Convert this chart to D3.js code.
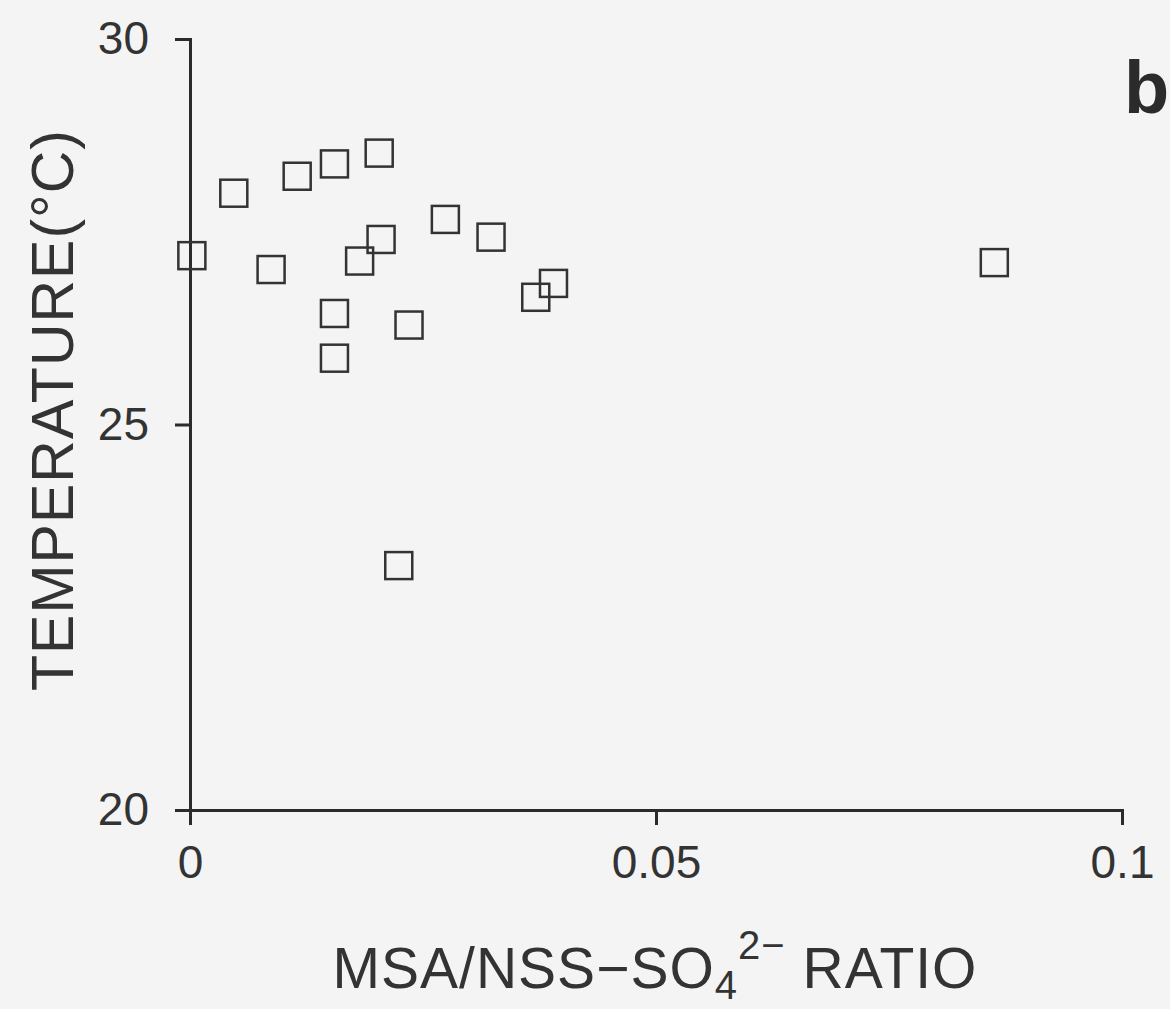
<!DOCTYPE html>
<html>
<head>
<meta charset="utf-8">
<script src="https://cdn.jsdelivr.net/npm/d3@7"></script>
<style>
	html, body { margin: 0; padding: 0; background: #f4f4f4; }
	svg { display: block; font-family: "Liberation Sans", Arial, sans-serif; }
</style>
</head>
<body>
<div id="chart"></div>
<script>
// MSA / NSS-SO4 ratio vs temperature
const ratio = [0.0002, 0.0047, 0.0115, 0.0155, 0.0203, 0.0087, 0.0182, 0.0205, 0.0274,
	0.0323, 0.0390, 0.0371, 0.0155, 0.0235, 0.0155, 0.0224, 0.0863]
const temperature = [27.19, 28.0, 28.22, 28.38, 28.52, 27.01, 27.12, 27.40, 27.66,
	27.43, 26.83, 26.65, 26.44, 26.29, 25.86, 23.17, 27.10]

const xTicks = [0, 0.05, 0.1]
const xTickLabels = ['0', '0.05', '0.1']
const yTicks = [20, 25, 30]
const yTickLabels = ['20', '25', '30']

const width = 1170
const height = 1009
const ink = '#2b2b2b'

let svg = d3.select('#chart')
	.append('svg')
	.attr('width', width)
	.attr('height', height)

svg.append('rect')
	.attr('width', width)
	.attr('height', height)
	.attr('fill', '#f4f4f4')

let x = d3.scaleLinear().domain([0, 0.1]).range([190, 1122])
let y = d3.scaleLinear().domain([20, 30]).range([810, 39])

let xAxis = d3.axisBottom(x)
	.tickValues(xTicks)
	.tickFormat((d, i) => xTickLabels[i])
	.tickSize(15)
	.tickPadding(20)

let yAxis = d3.axisLeft(y)
	.tickValues(yTicks)
	.tickFormat((d, i) => yTickLabels[i])
	.tickSize(15)
	.tickPadding(26)

let gx = svg.append('g')
	.attr('transform', 'translate(0,' + y(20) + ')')
	.call(xAxis)

let gy = svg.append('g')
	.attr('transform', 'translate(' + x(0) + ',0)')
	.call(yAxis)

// same look on both axes
for (let g of [gx, gy]) {
	g.select('.domain').attr('stroke', ink).attr('stroke-width', 3)
	g.selectAll('.tick line').attr('stroke', ink).attr('stroke-width', 3)
	g.selectAll('.tick text')
		.attr('fill', '#333')
		.style('font-size', '46px')
		.style('font-family', '"Liberation Sans", Arial, sans-serif')
}

// points: open squares
let size = 27
svg.append('g')
	.selectAll('rect')
	.data(ratio.map((r, i) => ({ r: r, t: temperature[i] })))
	.enter()
		.append('rect')
		.attr('x', d => x(d.r) - size / 2)
		.attr('y', d => y(d.t) - size / 2)
		.attr('width', size)
		.attr('height', size)
		.attr('fill', 'none')
		.attr('stroke', '#333')
		.attr('stroke-width', 2.5)

// axis titles
let xTitle = svg.append('text')
	.attr('x', 655)
	.attr('y', 988)
	.attr('text-anchor', 'middle')
	.attr('fill', '#333')
	.style('letter-spacing', '1px')
	.style('font-size', '57px')

xTitle.append('tspan').text('MSA/NSS\u2212SO')
xTitle.append('tspan').attr('dy', 11).style('font-size', '40px').text('4')
xTitle.append('tspan').attr('dy', -40).style('font-size', '40px').text('2\u2212')
xTitle.append('tspan').attr('dy', 29).text(' RATIO')

svg.append('text')
	.attr('transform', 'translate(73,410) rotate(-90)')
	.attr('text-anchor', 'middle')
	.attr('fill', '#333')
	.style('letter-spacing', '1px')
	.style('font-size', '59px')
	.text('TEMPERATURE(\u00b0C)')

// panel letter
svg.append('text')
	.attr('x', 1124)
	.attr('y', 113)
	.attr('fill', '#2b2b2b')
	.style('font-size', '74px')
	.style('font-weight', 'bold')
	.text('b')
</script>
</body>
</html>
